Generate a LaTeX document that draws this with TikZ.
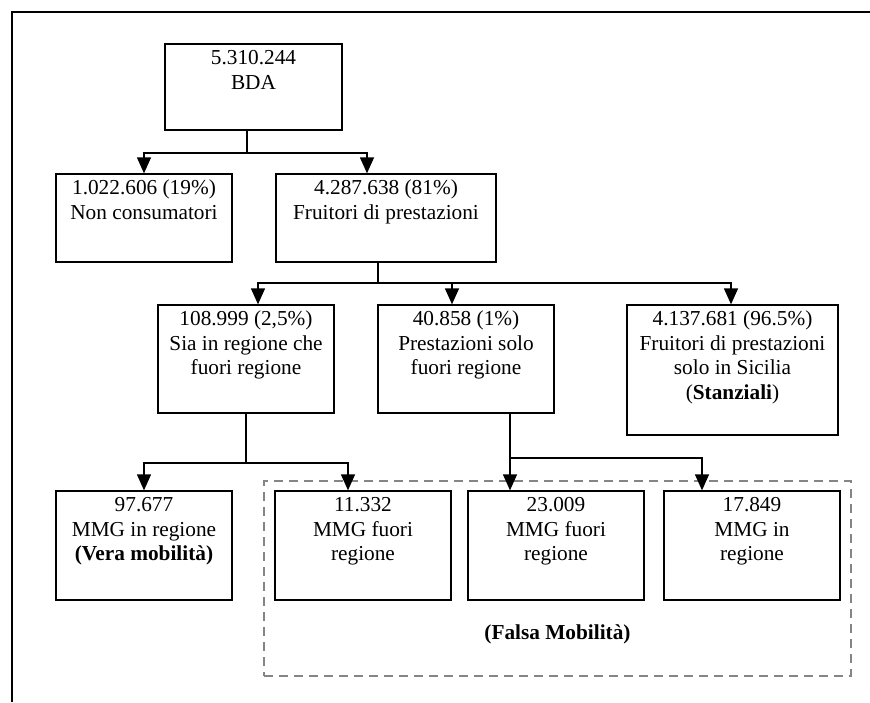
\documentclass[tikz,border=0pt]{standalone}
\usepackage{fontspec}
\setmainfont{Liberation Serif}
\usetikzlibrary{arrows.meta}
\begin{document}
\begin{tikzpicture}[x=1pt,y=-1pt,
  box/.style={draw, line width=1.3pt, inner sep=0pt},
  txt/.style={anchor=north, align=center, inner sep=0pt, font=\fontsize{21.3}{24.5}\selectfont},
  ln/.style={line width=1.3pt},
  arr/.style={line width=1.3pt, -{Triangle[length=16pt, width=14pt]}},
  frame/.style={line width=1.5pt}]
\useasboundingbox (0,0) rectangle (870,702);
% page frame
\draw[frame] (12,702) -- (12,12) -- (870,12);

% boxes
\node[box, minimum width=177pt, minimum height=86pt]  (bda) at (253.5,87) {};
\node[box, minimum width=176pt, minimum height=88pt]  (nc)  at (144,218) {};
\node[box, minimum width=220pt, minimum height=88pt]  (fr)  at (386,218) {};
\node[box, minimum width=176pt, minimum height=108pt] (sia) at (246,359) {};
\node[box, minimum width=176pt, minimum height=108pt] (pr)  at (466,359) {};
\node[box, minimum width=211pt, minimum height=130pt] (sic) at (732.5,370) {};
\node[box, minimum width=176pt, minimum height=109pt] (b1)  at (144,545.5) {};
\node[box, minimum width=176pt, minimum height=109pt] (b2)  at (363,545.5) {};
\node[box, minimum width=176pt, minimum height=109pt] (b3)  at (556,545.5) {};
\node[box, minimum width=176pt, minimum height=109pt] (b4)  at (752,545.5) {};

% texts
\node[txt] (tbda) at ([yshift=-4pt]bda.north) {\strut 5.310.244\\BDA};
\node[txt] (tnc)  at ([yshift=-4pt]nc.north)  {\strut 1.022.606 (19\%)\\Non consumatori};
\node[txt] (tfr)  at ([yshift=-4pt]fr.north)  {\strut 4.287.638 (81\%)\\Fruitori di prestazioni};
\node[txt] (tsia) at ([yshift=-4pt]sia.north) {\strut 108.999 (2,5\%)\\Sia in regione che\\fuori regione};
\node[txt] (tpr)  at ([yshift=-4pt]pr.north)  {\strut 40.858 (1\%)\\Prestazioni solo\\fuori regione};
\node[txt] (tsic) at ([yshift=-4pt]sic.north) {\strut 4.137.681 (96.5\%)\\Fruitori di prestazioni\\solo in Sicilia\\(\textbf{Stanziali})};
\node[txt] (tb1)  at ([yshift=-4pt]b1.north)  {\strut 97.677\\MMG in regione\\\textbf{(Vera mobilità)}};
\node[txt] (tb2)  at ([yshift=-4pt]b2.north)  {\strut 11.332\\MMG fuori\\regione};
\node[txt] (tb3)  at ([yshift=-4pt]b3.north)  {\strut 23.009\\MMG fuori\\regione};
\node[txt] (tb4)  at ([yshift=-4pt]b4.north)  {\strut 17.849\\MMG in\\regione};

% dashed group
\node[draw=black!48, line width=1.3pt, dash pattern=on 9pt off 6pt, inner sep=0pt,
      minimum width=587pt, minimum height=195pt] (fm) at (557.5,578.5) {};
\node[anchor=base, inner sep=0pt, font=\fontsize{21.3}{24.5}\selectfont\bfseries] (tfm) at (557.5,639) {(Falsa Mobilità)};

% connectors
\coordinate (j1) at (247,153);
\draw[ln] (bda.south -| j1) -- (j1);
\draw[arr] (j1) -| (nc.north);
\draw[arr] (j1) -| ([xshift=-19pt]fr.north);

\coordinate (j2) at (378,283);
\draw[ln] (fr.south -| j2) -- (j2);
\draw[arr] (j2) -| ([xshift=12pt]sia.north);
\draw[arr] (j2) -| ([xshift=-14pt]pr.north);
\draw[arr] (j2) -| ([xshift=-1.5pt]sic.north);

\coordinate (j3) at (246,463);
\draw[ln] (sia.south -| j3) -- (j3);
\draw[arr] (j3) -| (b1.north);
\draw[arr] (j3) -| ([xshift=-15pt]b2.north);

\coordinate (j4) at (510,458);
\draw[arr] (pr.south -| j4) -- (b3.north -| j4);
\draw[arr] (j4) -| ([xshift=-50pt]b4.north);
\end{tikzpicture}
\end{document}
